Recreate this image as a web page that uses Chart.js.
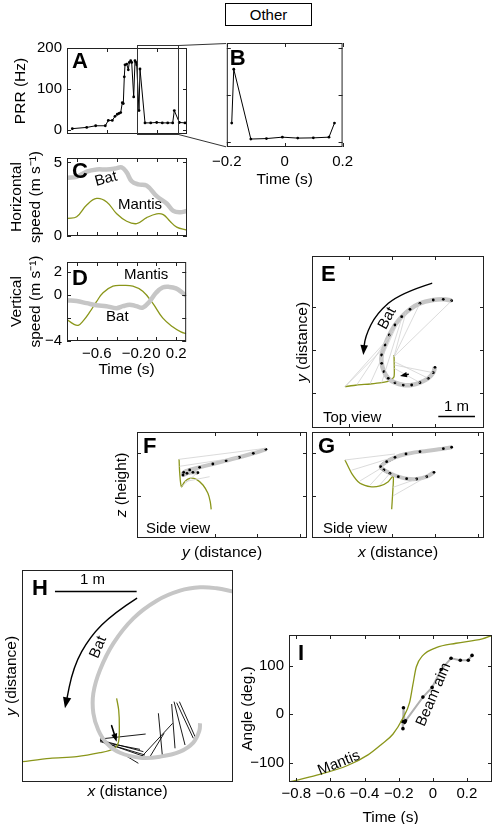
<!DOCTYPE html>
<html lang="en">
<head>
  <meta charset="utf-8">
  <title>Bat and mantis</title>
  <script src="https://cdn.jsdelivr.net/npm/chart.js@4"></script>
  <style>
    body { margin: 0; background: #fff; }
    #page { position: relative; width: 496px; height: 824px; overflow: hidden; font-family: 'Liberation Sans', Arial, sans-serif; }
    canvas { position: absolute; }
    #other { position: absolute; left: 225px; top: 3px; width: 87px; height: 23px; box-sizing: border-box; border: 1px solid #000; text-align: center; font-size: 15px; line-height: 21px; }
  </style>
</head>
<body>
  <div id="page">
    <div id="other">Other</div>
    <canvas id="cA"></canvas>
    <canvas id="cB"></canvas>
    <canvas id="cC"></canvas>
    <canvas id="cD"></canvas>
    <canvas id="cE"></canvas>
    <canvas id="cF"></canvas>
    <canvas id="cG"></canvas>
    <canvas id="cH"></canvas>
    <canvas id="cI"></canvas>
  </div>

  <script>
    // ---- A: pulse repetition rate (Hz) over time (s)
    const prrTime = [-0.847, -0.703, -0.613, -0.517, -0.487, -0.447, -0.42, -0.397, -0.38, -0.363, -0.347, -0.337, -0.327, -0.32, -0.303, -0.287, -0.277, -0.263, -0.253, -0.233, -0.22, -0.21, -0.203, -0.18, -0.17, -0.12, -0.063, -0.003, 0.053, 0.107, 0.157, 0.173, 0.223, 0.28];
    const prrHz = [4, 7, 11, 11, 24, 24, 34, 39, 41, 43, 67, 65, 130, 159, 161, 147, 165, 169, 165, 81, 169, 165, 159, 48, 149, 18, 18, 19, 18, 18, 18, 48, 19, 18];
    const insetTime = [-0.2, 0.21];
    const insetHz = [-9, 207];

    // ---- B: zoom on the last 0.4 s
    const zoomTime = [-0.183, -0.176, -0.117, -0.063, -0.008, 0.045, 0.099, 0.153, 0.172];
    const zoomHz = [40, 155, 6, 7, 10, 8, 8.5, 10, 40];

    // ---- C: horizontal speed (m/s)
    const hBatTime = [-0.893, -0.803, -0.703, -0.603, -0.503, -0.42, -0.353, -0.303, -0.253, -0.187, -0.103, -0.003, 0.097, 0.163, 0.23, 0.297];
    const hBatSpeed = [3.96, 4.02, 4.38, 4.52, 4.52, 4.58, 4.66, 4.32, 3.72, 3.51, 3.42, 2.71, 2.21, 1.7, 1.61, 1.7];
    const hMantisTime = [-0.893, -0.803, -0.703, -0.603, -0.503, -0.403, -0.303, -0.203, -0.103, -0.003, 0.063, 0.13, 0.197, 0.297];
    const hMantisSpeed = [1.2, 1.31, 2.11, 2.55, 2.31, 1.51, 1.0, 0.84, 1.25, 1.51, 1.45, 1.0, 0.6, 0.4];

    // ---- D: vertical speed (m/s)
    const vBatTime = [-0.893, -0.803, -0.703, -0.603, -0.503, -0.403, -0.337, -0.27, -0.203, -0.137, -0.07, -0.003, 0.063, 0.13, 0.197, 0.263, 0.3];
    const vBatSpeed = [-0.46, -0.54, -0.72, -0.9, -0.98, -1.15, -0.98, -0.85, -0.98, -1.1, -0.59, 0.18, 0.64, 0.69, 0.56, 0.18, -0.08];
    const vMantisTime = [-0.893, -0.837, -0.787, -0.737, -0.67, -0.603, -0.537, -0.437, -0.337, -0.237, -0.137, -0.037, 0.063, 0.163, 0.247, 0.3];
    const vMantisSpeed = [-2.18, -2.52, -2.64, -2.25, -1.48, -0.59, 0.18, 0.75, 0.82, 0.75, 0.31, -0.72, -2.0, -2.77, -3.21, -3.36];

    // ---- tick values
    const timeTicks = [-0.8, -0.6, -0.4, -0.2, 0, 0.2];
    const timeLabels = [-0.6, -0.2, 0, 0.2];
    const prrTicks = [0, 100, 200];
    const zoomTicks = [-0.2, 0, 0.2];
    const hSpeedTicks = [0, 5];
    const vSpeedTicks = [-4, -2, 0, 2];
    const vSpeedLabels = [-4, 0, 2];
    const angleTicks = [-100, 0, 100];

    // ---- E: top view (grid units), [x, y]
    const eBat = [[3.388, 3.147], [3.193, 3.179], [2.96, 3.163], [2.651, 3.086], [2.419, 2.947], [2.226, 2.774], [2.07, 2.581], [1.937, 2.349], [1.837, 2.116], [1.76, 1.884], [1.76, 1.691], [1.814, 1.495], [1.914, 1.342], [2.07, 1.24], [2.263, 1.186], [2.458, 1.186], [2.651, 1.24], [2.844, 1.342], [2.96, 1.472], [3.0, 1.598]];
    const eMantis = [[0.907, 1.147], [1.179, 1.186], [1.488, 1.209], [1.76, 1.24], [1.953, 1.286], [2.047, 1.379], [2.053, 1.612], [2.047, 1.884]];
    const eSight = [[0.907, 1.147, 1.837, 2.077], [0.907, 1.147, 1.937, 2.295], [1.179, 1.186, 2.03, 2.465], [1.488, 1.209, 2.123, 2.605], [1.76, 1.24, 2.226, 2.737], [2.047, 1.844, 3.388, 3.147], [2.047, 1.844, 2.651, 3.086], [2.047, 1.844, 2.326, 2.884], [2.053, 1.728, 2.844, 1.342], [2.053, 1.651, 2.96, 1.472], [2.053, 1.574, 2.651, 1.24], [1.953, 1.286, 2.419, 1.186]];
    const eArrow = [[2.923, 3.551], [2.186, 3.319], [1.644, 2.853], [1.372, 2.309], [1.333, 1.884]];
    const eMark = [[2.379, 1.435], [2.186, 1.395]];
    const eTicks = [1, 2, 3];

    // ---- F: side view, y (distance) vs z (height)
    const fBat = [[1.202, 1.086], [0.907, 0.993], [0.581, 0.9], [0.271, 0.821], [-0.04, 0.744], [-0.349, 0.667], [-0.581, 0.605], [-0.721, 0.551], [-0.737, 0.488], [-0.644, 0.528], [-0.505, 0.551], [-0.388, 0.542]];
    const fMantis = [[-0.83, 0.853], [-0.814, 0.528], [-0.775, 0.217], [-0.698, 0.333], [-0.581, 0.411], [-0.426, 0.388], [-0.271, 0.256], [-0.155, 0.062], [-0.101, -0.132], [-0.078, -0.31]];
    const fSight = [[-0.83, 0.853, 1.202, 1.109], [-0.822, 0.69, 0.581, 0.9], [-0.775, 0.217, -0.426, 0.52], [-0.698, 0.333, -0.116, 0.449]];
    const fxTicks = [0, 1, 2];
    const zTicks = [0, 1];

    // ---- G: side view, x (distance) vs z (height)
    const gBat = [[3.388, 1.133], [3.195, 1.1], [2.651, 1.03], [2.326, 0.977], [2.07, 0.9], [1.876, 0.798], [1.737, 0.682], [1.814, 0.605], [1.953, 0.528], [2.147, 0.449], [2.341, 0.403], [2.574, 0.395], [2.807, 0.449], [2.977, 0.551]];
    const gMantis = [[0.907, 0.837], [1.062, 0.528], [1.256, 0.295], [1.488, 0.217], [1.721, 0.233], [1.914, 0.333], [2.03, 0.465], [2.016, 0.062], [1.993, -0.31]];
    const gSight = [[0.907, 0.837, 2.07, 0.977], [1.062, 0.6, 1.876, 0.85], [1.256, 0.35, 1.8, 0.68], [1.488, 0.25, 1.814, 0.605], [1.721, 0.26, 1.953, 0.528], [2.02, 0.0, 2.807, 0.449], [2.02, 0.2, 2.574, 0.395]];
    const gxTicks = [1, 2, 3, 4];

    // ---- H: top view in metres, sonar beam directions
    const hBat = [[2.577, 2.321], [2.374, 2.362], [2.171, 2.374], [1.927, 2.333], [1.643, 2.211], [1.358, 1.996], [1.114, 1.691], [0.951, 1.366], [0.87, 1.082], [0.87, 0.838], [0.93, 0.634], [1.033, 0.472], [1.195, 0.357], [1.439, 0.297], [1.683, 0.309], [1.927, 0.37], [2.089, 0.48], [2.163, 0.626], [2.171, 0.716]];
    const hMantis = [[0.004, 0.248], [0.341, 0.289], [0.667, 0.309], [0.951, 0.357], [1.114, 0.402], [1.175, 0.48], [1.187, 0.675], [1.179, 0.878], [1.154, 1.02]];
    const hBeams = [[0.951, 0.524, 1.508, 0.585], [0.951, 0.512, 1.48, 0.37], [0.951, 0.512, 1.419, 0.228], [0.972, 0.492, 1.52, 0.301], [0.951, 0.492, 1.439, 0.398], [0.992, 0.48, 1.5, 0.329], [1.459, 0.309, 1.837, 0.716], [1.561, 0.309, 1.732, 0.594], [1.711, 0.329, 1.663, 0.838], [1.866, 0.411, 1.825, 0.951], [1.988, 0.451, 1.854, 0.98], [2.089, 0.533, 1.886, 0.967], [2.11, 0.553, 1.919, 0.98]];
    const hArrow = [[1.398, 2.24], [1.114, 2.057], [0.829, 1.772], [0.626, 1.406], [0.524, 0.899]];
    const hMark = [[1.093, 0.687], [1.154, 0.492]];

    // ---- I: angle (deg.) over time
    const iMantisTime = [-0.843, -0.68, -0.5, -0.38, -0.3, -0.233, -0.175, -0.136, -0.117, -0.097, -0.058, 0.02, 0.136, 0.29, 0.347];
    const iMantisDeg = [-140, -126, -106, -84, -62, -41, -8, 24, 60, 97, 121, 137, 146, 155, 162];
    const beamTime = [-0.178, -0.175, -0.172, -0.165, -0.16, -0.058, -0.004, 0.049, 0.107, 0.161, 0.208, 0.23];
    const beamDeg = [-15, -30, 13, -17, -14, 35, 55, 92, 115, 111, 111, 121];

    const FONT = "'Liberation Sans', Arial, Helvetica, sans-serif";
    const OLIVE = '#8a961a', BATGREY = '#c6c6c6', SIGHT = '#d2d2d2';
    const BOLD = 'bold 22px ' + FONT;

    Chart.defaults.font.family = FONT;
    Chart.defaults.font.size = 15;
    Chart.defaults.color = '#000';
    Chart.defaults.animation = false;
    Chart.defaults.events = [];
    Chart.defaults.plugins.legend.display = false;
    Chart.defaults.plugins.tooltip.enabled = false;

    const zip = (xs, ys) => xs.map((v, i) => ({ x: v, y: ys[i] }));
    const pts = arr => arr.map(p => ({ x: p[0], y: p[1] }));
    const segs = arr => arr.flatMap(s => [{ x: s[0], y: s[1] }, { x: s[2], y: s[3] }, { x: null, y: null }]);
    const fmt = v => { const r = Math.round(v * 100) / 100; return (r < 0 ? '\u2212' : '') + Math.abs(r); };

    function line(data, color, width, extra) {
      return Object.assign({ data, showLine: true, borderColor: color, backgroundColor: color, borderWidth: width, pointRadius: 0, tension: 0 }, extra || {});
    }

    // box outline plus inward tick marks on all four sides
    const framePlugin = {
      id: 'frame',
      afterDatasetsDraw(chart, args, opts) {
        const { ctx, chartArea: a, scales } = chart;
        const len = opts.len;
        ctx.save();
        ctx.strokeStyle = '#222';
        ctx.lineWidth = 1;
        ctx.strokeRect(a.left + 0.5, a.top + 0.5, a.right - a.left - 1, a.bottom - a.top - 1);
        if (len) {
          ctx.beginPath();
          scales.x.ticks.forEach(t => {
            const p = Math.round(scales.x.getPixelForValue(t.value)) + 0.5;
            ctx.moveTo(p, a.top); ctx.lineTo(p, a.top + len);
            ctx.moveTo(p, a.bottom); ctx.lineTo(p, a.bottom - len);
          });
          scales.y.ticks.forEach(t => {
            const p = Math.round(scales.y.getPixelForValue(t.value)) + 0.5;
            ctx.moveTo(a.left, p); ctx.lineTo(a.left + len, p);
            ctx.moveTo(a.right, p); ctx.lineTo(a.right - len, p);
          });
          ctx.stroke();
        }
        ctx.restore();
      }
    };

    function drawMixed(ctx, t, a) {
      const fonts = t.parts.map(p => (p[1] ? p[1] + ' ' : '') + '15.5px ' + FONT);
      let total = 0;
      const widths = t.parts.map((p, i) => { ctx.font = fonts[i]; const w = ctx.measureText(p[0]).width; total += w; return w; });
      ctx.save();
      if (t.side === 'left') {
        ctx.translate(a.left - t.off, (a.top + a.bottom) / 2);
        ctx.rotate(-Math.PI / 2);
      } else {
        ctx.translate((a.left + a.right) / 2, a.bottom + t.off);
      }
      ctx.textAlign = 'left';
      ctx.textBaseline = 'middle';
      let x = -total / 2;
      t.parts.forEach((p, i) => { ctx.font = fonts[i]; ctx.fillText(p[0], x, 0); x += widths[i]; });
      ctx.restore();
    }

    // arrows, scale bars, labels and axis titles for one panel
    function deco(spec) {
      return {
        id: 'deco',
        afterDatasetsDraw(chart) {
          const { ctx, chartArea: a } = chart;
          const sx = chart.scales.x, sy = chart.scales.y;
          const P = p => [sx.getPixelForValue(p[0]), sy.getPixelForValue(p[1])];
          ctx.save();
          ctx.fillStyle = '#000';
          ctx.strokeStyle = '#000';
          (spec.arrows || []).forEach(ar => {
            const q = ar.pts.map(P);
            const e = q[q.length - 1], s = q[q.length - 2];
            const ang = Math.atan2(e[1] - s[1], e[0] - s[0]);
            const hl = ar.head, c = Math.cos(ang), sn = Math.sin(ang);
            ctx.lineWidth = ar.w;
            ctx.lineCap = 'round';
            ctx.beginPath();
            ctx.moveTo(q[0][0], q[0][1]);
            for (let i = 1; i < q.length - 1; i++) {
              ctx.quadraticCurveTo(q[i][0], q[i][1], (q[i][0] + q[i + 1][0]) / 2, (q[i][1] + q[i + 1][1]) / 2);
            }
            ctx.lineTo(e[0] - c * hl * 0.6, e[1] - sn * hl * 0.6);
            ctx.stroke();
            ctx.beginPath();
            ctx.moveTo(e[0], e[1]);
            ctx.lineTo(e[0] - hl * c + hl * 0.38 * sn, e[1] - hl * sn - hl * 0.38 * c);
            ctx.lineTo(e[0] - hl * c - hl * 0.38 * sn, e[1] - hl * sn + hl * 0.38 * c);
            ctx.closePath();
            ctx.fill();
          });
          (spec.bars || []).forEach(b => {
            const p1 = P([b[0], b[2]]), p2 = P([b[1], b[2]]);
            const yy = Math.round(p1[1]) + 0.5;
            ctx.lineWidth = 1.3;
            ctx.lineCap = 'butt';
            ctx.beginPath(); ctx.moveTo(p1[0], yy); ctx.lineTo(p2[0], yy); ctx.stroke();
          });
          ctx.textAlign = 'center';
          ctx.textBaseline = 'middle';
          (spec.texts || []).forEach(t => {
            const p = P([t.x, t.y]);
            ctx.save();
            ctx.translate(p[0], p[1]);
            ctx.rotate((t.rot || 0) * Math.PI / 180);
            ctx.font = '15px ' + FONT;
            ctx.fillText(t.text, 0, 0);
            ctx.restore();
          });
          (spec.corner || []).forEach(t => {
            ctx.font = t.font || ('15px ' + FONT);
            ctx.textAlign = 'left';
            ctx.textBaseline = 'alphabetic';
            ctx.fillText(t.text, a.left + t.dx, t.dy >= 0 ? a.top + t.dy : a.bottom + t.dy);
          });
          (spec.titles || []).forEach(t => drawMixed(ctx, t, a));
          ctx.restore();
        }
      };
    }

    function axis(s, size, horiz) {
      return {
        type: 'linear', min: s.min, max: s.max,
        grid: { display: false, drawTicks: false },
        border: { display: false },
        ticks: {
          display: !!s.labels, padding: s.pad ?? 5, autoSkip: false, maxRotation: 0,
          callback: v => (s.labels || []).includes(v) ? fmt(v) : ''
        },
        title: s.title ? {
          display: true, text: s.title, font: { size: 15.5 },
          padding: horiz ? { top: 0, bottom: s.tpad } : { top: s.tpad, bottom: 0 }
        } : { display: false },
        afterBuildTicks: sc => { sc.ticks = (s.ticks || []).map(v => ({ value: v })); },
        afterFit: sc => { if (horiz) sc.height = size; else sc.width = size; }
      };
    }

    // box = [left, top, right, bottom] of the plot frame; pad = [left, right, top, bottom] around it
    function panel(id, box, pad, xs, ys, datasets, spec, frameLen, extra) {
      const cv = document.getElementById(id);
      cv.width = box[2] - box[0] + pad[0] + pad[1];
      cv.height = box[3] - box[1] + pad[2] + pad[3];
      cv.style.left = (box[0] - pad[0]) + 'px';
      cv.style.top = (box[1] - pad[2]) + 'px';
      return new Chart(cv, {
        type: 'scatter',
        data: { datasets },
        options: {
          responsive: false,
          devicePixelRatio: 1,
          layout: { padding: { left: 0, right: pad[1], top: pad[2], bottom: 0 } },
          scales: { x: axis(xs, pad[3], true), y: axis(ys, pad[0], false) },
          plugins: { frame: { len: frameLen } }
        },
        plugins: [framePlugin, deco(spec || {})].concat(extra || [])
      });
    }

    const dotted = { pointRadius: 1.4, pointBackgroundColor: '#000', pointBorderWidth: 0 };

    // B first, so A can draw its connector lines to it
    const chartB = panel('cB', [224, 43, 345, 147], [18, 14, 4, 46],
      { min: -0.2, max: 0.2, ticks: zoomTicks, labels: zoomTicks, pad: 6, title: 'Time (s)', tpad: 3.7 },
      { min: -11, max: 211, ticks: prrTicks },
      [line(zip(zoomTime, zoomHz), '#000', 1, dotted)],
      { corner: [{ text: 'B', dx: 3, dy: 22, font: BOLD }] }, 4);

    const insetPlugin = {
      id: 'inset',
      afterDraw(chart) {
        const { ctx, scales: { x, y } } = chart;
        const l = Math.round(x.getPixelForValue(insetTime[0])) + 0.5;
        const r = Math.round(x.getPixelForValue(insetTime[1])) + 0.5;
        const t = Math.round(y.getPixelForValue(insetHz[1])) + 0.5;
        const b = Math.round(y.getPixelForValue(insetHz[0])) + 0.5;
        const dx = chartB.canvas.offsetLeft - chart.canvas.offsetLeft;
        const dy = chartB.canvas.offsetTop - chart.canvas.offsetTop;
        const ba = chartB.chartArea;
        ctx.save();
        ctx.strokeStyle = '#333';
        ctx.lineWidth = 1;
        ctx.strokeRect(l, t, r - l, b - t);
        ctx.beginPath();
        ctx.moveTo(r, t); ctx.lineTo(ba.left + dx, ba.top + dy + 0.5);
        ctx.moveTo(r, b); ctx.lineTo(ba.left + dx, ba.bottom + dy);
        ctx.stroke();
        ctx.restore();
      }
    };

    panel('cA', [67, 46, 187, 140], [67, 39, 12, 8],
      { min: -0.9, max: 0.3, ticks: [-0.5, 0] },
      { min: -9, max: 200, ticks: prrTicks, labels: prrTicks, title: 'PRR (Hz)', tpad: 11.5 },
      [line(zip(prrTime, prrHz), '#000', 1, dotted)],
      { corner: [{ text: 'A', dx: 5, dy: 20, font: BOLD }] }, 4, [insetPlugin]);

    panel('cC', [67, 152, 187, 240], [67, 4, 8, 10],
      { min: -0.9, max: 0.3, ticks: timeTicks },
      { min: 0, max: 5.3, ticks: hSpeedTicks, labels: hSpeedTicks, title: ['Horizontal', 'speed (m s\u207B\u00B9)'], tpad: 7.7 },
      [line(zip(hBatTime, hBatSpeed), BATGREY, 4.5, { tension: 0.4 }),
       line(zip(hMantisTime, hMantisSpeed), OLIVE, 1.3, { tension: 0.4 })],
      {
        corner: [{ text: 'C', dx: 5, dy: 20, font: BOLD }],
        texts: [{ text: 'Bat', x: -0.51, y: 3.87, rot: -15 }, { text: 'Mantis', x: -0.17, y: 2.11 }]
      }, 4);

    panel('cD', [67, 252, 187, 341], [67, 4, 4, 40],
      { min: -0.9, max: 0.3, ticks: timeTicks, labels: timeLabels, pad: 4, title: 'Time (s)', tpad: 1.7 },
      { min: -4, max: 2.85, ticks: vSpeedTicks, labels: vSpeedLabels, title: ['Vertical', 'speed (m s\u207B\u00B9)'], tpad: 7.7 },
      [line(zip(vBatTime, vBatSpeed), BATGREY, 4.5, { tension: 0.4 }),
       line(zip(vMantisTime, vMantisSpeed), OLIVE, 1.3, { tension: 0.4 })],
      {
        corner: [{ text: 'D', dx: 5, dy: 23, font: BOLD }],
        texts: [{ text: 'Mantis', x: -0.103, y: 1.77 }, { text: 'Bat', x: -0.393, y: -1.92 }]
      }, 4);

    panel('cE', [312, 256, 484, 428], [20, 6, 4, 4],
      { min: 0.14, max: 4.14, ticks: eTicks },
      { min: 0.186, max: 4.186, ticks: eTicks },
      [line(segs(eSight), SIGHT, 0.8),
       line(pts(eBat), BATGREY, 4.5, Object.assign({ tension: 0.4 }, dotted)),
       line(pts(eMantis), OLIVE, 1.3, { tension: 0.2 }),
       line(pts(eBat.slice(6, 14)), '#000', 3, { tension: 0.4 })],
      {
        arrows: [{ pts: eArrow, w: 1.4, head: 10 }, { pts: eMark, w: 1.4, head: 7 }],
        bars: [[3.077, 3.93, 0.472]],
        texts: [{ text: 'Bat', x: 1.891, y: 2.737, rot: -62 }, { text: '1 m', x: 3.5, y: 0.68 }],
        corner: [{ text: 'E', dx: 9, dy: 25, font: BOLD }, { text: 'Top view', dx: 11, dy: -6 }],
        titles: [{ side: 'left', off: 9.6, parts: [['y', 'italic'], [' (distance)', '']] }]
      }, 4);

    panel('cF', [137, 432, 308, 538], [24, 3, 4, 24],
      { min: -1.814, max: 2.163, ticks: fxTicks },
      { min: -0.977, max: 1.488, ticks: zTicks },
      [line(segs(fSight), SIGHT, 0.8),
       line(pts(fBat), BATGREY, 4, Object.assign({ tension: 0.3 }, dotted)),
       line(pts(fMantis), OLIVE, 1.3, { tension: 0.3 }),
       line(pts(fBat.slice(6)), '#000', 3, { tension: 0.4 })],
      {
        corner: [{ text: 'F', dx: 6, dy: 21, font: BOLD }, { text: 'Side view', dx: 9, dy: -5 }],
        titles: [{ side: 'left', off: 15.3, parts: [['z', 'italic'], [' (height)', '']] },
                 { side: 'bottom', off: 14.7, parts: [['y', 'italic'], [' (distance)', '']] }]
      }, 4);

    panel('cG', [312, 432, 484, 538], [4, 6, 4, 24],
      { min: 0.14, max: 4.14, ticks: gxTicks },
      { min: -0.977, max: 1.488, ticks: zTicks },
      [line(segs(gSight), SIGHT, 0.8),
       line(pts(gBat), BATGREY, 4, Object.assign({ tension: 0.3 }, dotted)),
       line(pts(gMantis), OLIVE, 1.3, { tension: 0.2 }),
       line(pts(gBat.slice(4, 9)), '#000', 3, { tension: 0.4 })],
      {
        corner: [{ text: 'G', dx: 6, dy: 21, font: BOLD }, { text: 'Side view', dx: 11, dy: -5 }],
        titles: [{ side: 'bottom', off: 14.7, parts: [['x', 'italic'], [' (distance)', '']] }]
      }, 4);

    panel('cH', [22, 570, 233, 782], [19, 4, 4, 20],
      { min: 0, max: 2.573, ticks: [1] },
      { min: 0, max: 2.585, ticks: [1] },
      [line(pts(hBat), BATGREY, 4, { tension: 0.4 }),
       line(pts(hMantis), OLIVE, 1.3, { tension: 0.3 }),
       line(segs(hBeams), '#000', 0.9)],
      {
        arrows: [{ pts: hArrow, w: 1.4, head: 11 }, { pts: hMark, w: 1.6, head: 8 }],
        bars: [[0.402, 1.398, 2.333]],
        texts: [{ text: 'Bat', x: 0.93, y: 1.643, rot: -67 }, { text: '1 m', x: 0.86, y: 2.463 }],
        corner: [{ text: 'H', dx: 10, dy: 25, font: BOLD }],
        titles: [{ side: 'left', off: 10.3, parts: [['y', 'italic'], [' (distance)', '']] },
                 { side: 'bottom', off: 10, parts: [['x', 'italic'], [' (distance)', '']] }]
      }, 0);

    panel('cI', [289, 625, 494, 782], [60, 2, 4, 45],
      { min: -0.843, max: 0.347, ticks: timeTicks, labels: timeTicks, pad: 2.5, title: 'Time (s)', tpad: 0 },
      { min: -140, max: 163, ticks: angleTicks, labels: angleTicks, title: 'Angle (deg.)', tpad: 9.7 },
      [line(zip(iMantisTime, iMantisDeg), OLIVE, 1.3, { cubicInterpolationMode: 'monotone' }),
       line(zip(beamTime, beamDeg), '#b0b0b0', 2, { pointRadius: 1.8, pointBackgroundColor: '#000', pointBorderWidth: 0 })],
      {
        corner: [{ text: 'I', dx: 9, dy: 25, font: BOLD }],
        texts: [{ text: 'Mantis', x: -0.55, y: -101, rot: -22 }, { text: 'Beam aim', x: 0.005, y: 40, rot: -67 }]
      }, 4);
  </script>
</body>
</html>
